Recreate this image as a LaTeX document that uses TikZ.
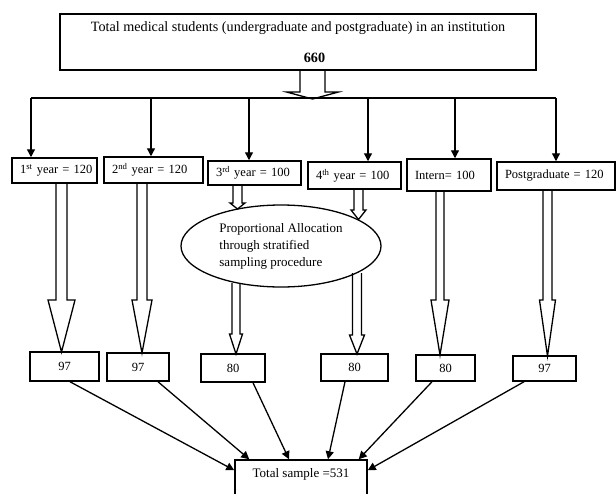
\documentclass[tikz,border=0pt]{standalone}
\usepackage{fontspec}
\setmainfont{Liberation Serif}
\usetikzlibrary{arrows.meta,shapes.geometric,calc}
\newcommand\hollowarr[6]{\draw[hollow] ({#1-#5},#2) -- ({#1-#5},#3) -- ({#1-#6},#3) -- (#1,#4) -- ({#1+#6},#3) -- ({#1+#5},#3) -- ({#1+#5},#2);}
\begin{document}
\begin{tikzpicture}[x=1pt,y=-1pt,
  font=\fontsize{12.5}{15}\selectfont,
  frame/.style={draw, line width=1.5pt},
  rbox/.style n args={2}{frame, minimum width=#1pt, text width={#1pt-16pt}, inner xsep=8pt, inner ysep=0pt, minimum height=#2pt, align=left},
  cbox/.style n args={2}{frame, minimum width=#1pt, minimum height=#2pt, inner sep=0pt},
  arr/.style={line width=1.3pt, -{Triangle[length=8pt,width=8pt]}},
  hollow/.style={draw, line width=1.3pt, line join=miter}]
\useasboundingbox (0,0) rectangle (616,493);

% hollow (block) arrows
\hollowarr{312.5}{70}{92}{99}{12.5}{26}
\hollowarr{61.5}{183}{300}{352}{5.5}{13.5}
\hollowarr{142}{183}{300}{353}{5}{10}
\hollowarr{237.5}{185}{203}{209}{4.5}{7.5}
\hollowarr{358.5}{189}{210}{219.5}{4.5}{7.5}
\hollowarr{236}{283}{334}{354}{4}{6.5}
\hollowarr{357}{273}{335}{354}{4.5}{7.5}
\hollowarr{440}{191}{300}{355}{4}{9}
\hollowarr{547.5}{190}{300}{356}{4.5}{8}

% top box
\node[frame, minimum width=476pt, minimum height=56pt, align=center, inner sep=0pt,
  font=\fontsize{14.2}{16}\selectfont] (top) at (298,42)
  {Total medical students (undergraduate and postgraduate) in an institution\\[15pt]\hspace*{33pt}\textbf{660}};

% strata boxes
\node[rbox={85}{25}] (b1) at (54.5,170.5) {\mbox{1\textsuperscript{st} year = 120}};
\node[rbox={99}{26}] (b2) at (153.5,170) {\mbox{2\textsuperscript{nd} year = 120}};
\node[rbox={93}{24}] (b3) at (254.5,173) {\mbox{3\textsuperscript{rd} year = 100}};
\node[rbox={93}{27}] (b4) at (354.5,175.5) {\mbox{4\textsuperscript{th} year = 100}};
\node[rbox={84}{32}] (b5) at (449,175) {\mbox{Intern= 100}};
\node[rbox={118}{28}] (b6) at (556,176) {\mbox{Postgraduate = 120}};

% ellipse
\node[draw, ellipse, line width=1.3pt, minimum width=200pt, minimum height=82pt, inner sep=0pt,
  align=left, font=\fontsize{13}{17}\selectfont] (ell) at (281,246)
  {Proportional Allocation\\through stratified\\sampling procedure};

% sample boxes
\node[cbox={69}{29}] (c1) at (64.5,366.5) {97};
\node[cbox={62}{28}] (c2) at (138,367) {97};
\node[cbox={64}{28}] (c3) at (233,368) {80};
\node[cbox={67}{27}] (c4) at (354.5,367.5) {80};
\node[cbox={59}{26}] (c5) at (445.5,368) {80};
\node[cbox={63}{25}] (c6) at (544.5,368.5) {97};

% total
\node[frame, minimum width=132pt, text height=13pt, text depth=29pt, inner ysep=4pt, inner xsep=0pt,
  font=\fontsize{13}{15}\selectfont] (tot) at (301,485) {Total sample =531};

% distribution line and arrows
\coordinate (t1) at (31,98);
\coordinate (t2) at (151,98);
\coordinate (t3) at (249,98);
\coordinate (t4) at (368,98);
\coordinate (t5) at (455,98);
\coordinate (t6) at (556,98);
\draw[line width=1.3pt] (t1) -- (t6);
\draw[arr] (t1) -- (t1 |- b1.north);
\draw[arr] (t2) -- (t2 |- b2.north);
\draw[arr] (t3) -- (t3 |- b3.north);
\draw[arr] (t4) -- (t4 |- b4.north);
\draw[arr] (t5) -- (t5 |- b5.north);
\draw[arr] (t6) -- (t6 |- b6.north);

% to total
\draw[arr] ([xshift=5.5pt]c1.south) -- ([yshift=-11pt]tot.north west);
\draw[arr] ([xshift=20pt]c2.south) -- ([xshift=15pt]tot.north west);
\draw[arr] ([xshift=20pt]c3.south) -- ([xshift=-12pt]tot.north);
\draw[arr] ([xshift=-9.5pt]c4.south) -- ([xshift=27pt]tot.north);
\draw[arr] ([xshift=-13.5pt]c5.south) -- ([xshift=-9pt]tot.north east);
\draw[arr] ([xshift=-20.5pt]c6.south) -- ([yshift=-11pt]tot.north east);
\end{tikzpicture}
\end{document}
